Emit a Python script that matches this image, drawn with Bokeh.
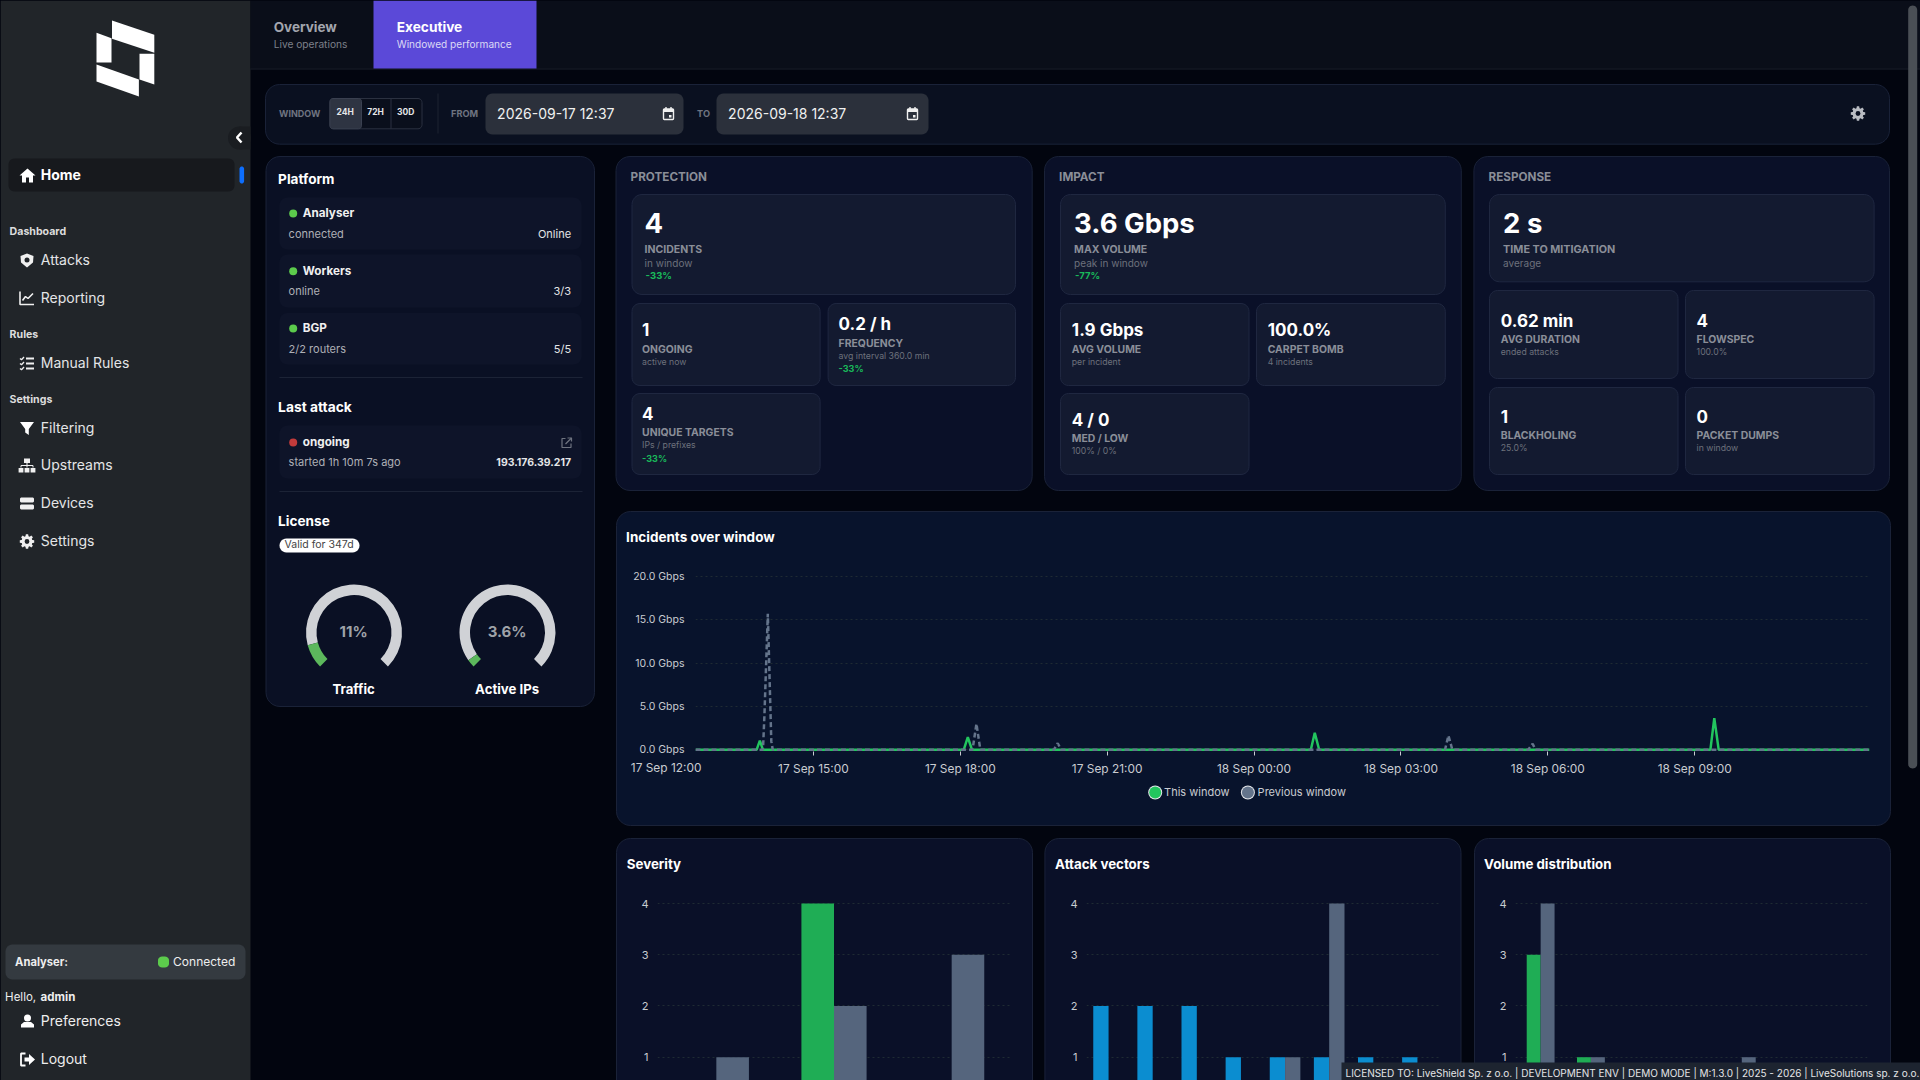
import math
from bokeh.core.properties import value
from bokeh.embed import file_html
from bokeh.resources import INLINE
from bokeh.models import Range1d, FactorRange, FixedTicker, PrintfTickFormatter, ColumnDataSource
from bokeh.plotting import figure
from bokeh.transform import dodge

# ---------- chart data ----------
hours_tick_values = [3, 6, 9, 12, 15, 18, 21]
hours_tick_labels = ["17 Sep 15:00", "17 Sep 18:00", "17 Sep 21:00", "18 Sep 00:00",
                     "18 Sep 03:00", "18 Sep 06:00", "18 Sep 09:00"]
first_tick_label = "17 Sep 12:00"
window_start_h = 0.592
window_end_h = 24.57
gbps_ticks = [0, 5, 10, 15, 20]

this_t = [0.592, 1.84, 1.906, 1.97, 6.07, 6.154, 6.24, 13.16, 13.24, 13.33, 21.32, 21.40, 21.49, 24.57]
this_v = [0, 0, 1.05, 0, 0, 1.45, 0, 0, 1.96, 0, 0, 3.65, 0, 0]
prev_t = [0.592, 1.97, 2.0, 2.069, 2.14, 2.17, 6.25, 6.33, 6.41, 7.91, 7.99, 8.06,
          15.90, 15.97, 16.05, 17.60, 17.69, 17.75, 24.57]
prev_v = [0, 0, 4.0, 15.7, 1.0, 0, 0, 3.0, 0, 0, 0.76, 0, 0, 1.65, 0, 0, 0.7, 0, 0]

bar_ticks = [1, 2, 3, 4]
severity_cats = ["High", "Medium", "Low"]
severity_this = [0, 4, 0]
severity_prev = [1, 2, 3]
vector_cats = ["Vector 1", "Vector 2", "Vector 3", "Vector 4", "Vector 5", "Vector 6", "Vector 7", "Vector 8"]
vector_this = [2, 2, 2, 1, 1, 1, 1, 1]
vector_prev = [0, 0, 0, 0, 1, 4, 0, 0]
volume_cats = ["Bin 1", "Bin 2", "Bin 3", "Bin 4", "Bin 5", "Bin 6", "Bin 7"]
volume_this = [3, 1, 0, 0, 0, 0, 0]
volume_prev = [4, 1, 0, 0, 1, 0, 0]

gauge_names = ["Traffic", "Active IPs"]
gauge_texts = ["11%", "3.6%"]
gauge_values = [11, 3.6]

# ---------- palette ----------
SIDE = "#212529"; BG = "#02050f"; TAB = "#0a0e19"; CARD = "#0a1028"; CARDL = "#1a2238"
TILE = "#131a30"; TILEL = "#1f2740"; CHARTC = "#08132c"; GREEN = "#22c55e"; GREY = "#64748b"
BARG = "#1fad55"; BARB = "#0b8dd0"; BARP = "#55657d"; OK = "#5ccb4c"
FONT = "Inter"

p = figure(width=1920, height=1080, x_range=Range1d(0, 1920), y_range=Range1d(1080, 0),
           toolbar_location=None, output_backend="svg", min_border_left=0, min_border_right=0,
           min_border_top=0, min_border_bottom=0, outline_line_color=None,
           background_fill_color=BG, border_fill_color=None, x_axis_location=None, y_axis_location=None,
           styles={"position": "absolute", "left": "0px", "top": "0px"})
p.grid.visible = False

def rr(x0, y0, x1, y1, r):
    xs, ys = [], []
    for cx, cy, a0 in [(x1 - r, y0 + r, -90), (x1 - r, y1 - r, 0), (x0 + r, y1 - r, 90), (x0 + r, y0 + r, 180)]:
        for i in range(7):
            a = math.radians(a0 + i * 15)
            xs.append(cx + r * math.cos(a)); ys.append(cy + r * math.sin(a))
    return xs, ys

def box(x0, y0, x1, y1, r=0, fill=None, line=None, lw=1):
    xs, ys = rr(x0, y0, x1, y1, r)
    p.patch(xs, ys, fill_color=fill, fill_alpha=1 if fill else 0, line_color=line, line_width=lw)

def poly(pts, color):
    p.patch([a for a, _ in pts], [b for _, b in pts], fill_color=color, line_color=None)

def stroke(pts, color, w=1.5):
    p.line([a for a, _ in pts], [b for _, b in pts], line_color=color, line_width=w)

def dot(x, y, r, color):
    p.circle([x], [y], radius=r, fill_color=color, line_color=None)

def T(x, y, s, size=12, color="#ffffff", bold=False, align="left", font=FONT):
    p.text([x - 0.4], [y - 0.7], text=[s], text_font=value(font), text_font_size=f"{size}px", text_color=color,
           text_baseline="middle", text_align=align, text_font_style="bold" if bold else "normal")

# ---------- page chrome ----------
box(0, 0, 250, 1080, fill=SIDE)
box(250, 0, 1920, 68, fill=TAB)
stroke([(250, 68.5), (1920, 68.5)], "#1b202c", 1)
box(373, 0, 536, 68, fill="#5b49d8")
T(273.6, 26.7, "Overview", 13.5, "#a3a6ae", True)
T(273.6, 43.7, "Live operations", 10.2, "#7d808a")
T(396.6, 26.7, "Executive", 13.7, "#ffffff", True)
T(396.6, 43.7, "Windowed performance", 10.1, "#dcd9f5")

# scrollbar thumb
box(1907.7, 5, 1916.7, 768, r=4.5, fill="#4a4f55")

# logo
for pts in ([(111.5, 20), (153.8, 34.3), (153.8, 52.3), (111.5, 38.3)],
            [(96, 32.3), (111, 37.7), (111, 62), (96, 62)],
            [(96, 64), (138.4, 79), (138.4, 96), (96, 81)],
            [(139, 53.3), (153.8, 53.3), (153.8, 84), (139, 79)]):
    poly(pts, "#ffffff")

# collapse tab
dot(239, 137.5, 11.5, "#1a1d21")
box(239, 126, 250, 149, fill="#1a1d21")
stroke([(241, 132), (236.5, 137), (241, 142)], "#ffffff", 2.5)

# navigation
box(8, 158, 234, 191, r=6, fill="#17191d")
box(239, 166, 243.6, 183, r=2.3, fill="#0d6efd")

def home(cx, cy):
    poly([(cx, cy - 7), (cx + 8, cy), (cx + 5.5, cy), (cx + 5.5, cy + 7), (cx + 1.5, cy + 7), (cx + 1.5, cy + 2),
          (cx - 1.5, cy + 2), (cx - 1.5, cy + 7), (cx - 5.5, cy + 7), (cx - 5.5, cy), (cx - 8, cy)], "#ffffff")

def shield(cx, cy):
    poly([(cx, cy - 7), (cx + 6.5, cy - 4.5), (cx + 6, cy + 2), (cx, cy + 7), (cx - 6, cy + 2), (cx - 6.5, cy - 4.5)], "#f0f0f0")
    dot(cx, cy - 0.5, 2.5, SIDE)

def chart_icon(cx, cy):
    stroke([(cx - 7, cy - 7), (cx - 7, cy + 6), (cx + 7, cy + 6)], "#f0f0f0", 1.6)
    stroke([(cx - 4.5, cy + 2), (cx - 1.5, cy - 2), (cx + 1, cy), (cx + 6, cy - 5)], "#f0f0f0", 1.6)

def list_icon(cx, cy):
    for d in (-5, 0, 5):
        stroke([(cx - 1, cy + d), (cx + 7, cy + d)], "#f0f0f0", 2)
        stroke([(cx - 7, cy + d), (cx - 5.5, cy + d + 1.3), (cx - 3, cy + d - 1.5)], "#f0f0f0", 1.3)

def funnel(cx, cy):
    poly([(cx - 7, cy - 6), (cx + 7, cy - 6), (cx + 1.8, cy + 1), (cx + 1.8, cy + 7), (cx - 1.8, cy + 4.5), (cx - 1.8, cy + 1)], "#ffffff")

def sitemap(cx, cy):
    box(cx - 3, cy - 7, cx + 3, cy - 2.5, fill="#f0f0f0")
    stroke([(cx, cy - 2.5), (cx, cy + 2)], "#f0f0f0", 1)
    stroke([(cx - 6, cy + 2), (cx - 6, cy), (cx + 6, cy), (cx + 6, cy + 2)], "#f0f0f0", 1)
    for d in (-6, 0, 6):
        box(cx + d - 2.4, cy + 2.5, cx + d + 2.4, cy + 7, fill="#f0f0f0")

def devices(cx, cy):
    box(cx - 7, cy - 6, cx + 7, cy - 1, r=1.5, fill="#f0f0f0")
    box(cx - 7, cy + 1, cx + 7, cy + 6, r=1.5, fill="#f0f0f0")

def gear(cx, cy, color="#f0f0f0", hole=SIDE):
    pts = []
    for i in range(8):
        a = math.radians(i * 45)
        for da, r in ((-16, 5.5), (-9, 7.3), (9, 7.3), (16, 5.5)):
            b = a + math.radians(da)
            pts.append((cx + r * math.cos(b), cy + r * math.sin(b)))
    poly(pts, color)
    dot(cx, cy, 2.4, hole)

def person(cx, cy):
    dot(cx, cy - 3.5, 3.5, "#ffffff")
    poly([(cx - 6.5, cy + 6), (cx - 6.5, cy + 3), (cx - 3.5, cy + 0.5), (cx + 3.5, cy + 0.5), (cx + 6.5, cy + 3), (cx + 6.5, cy + 6)], "#ffffff")

def logout(cx, cy):
    stroke([(cx - 2, cy - 6), (cx - 6.5, cy - 6), (cx - 6.5, cy + 6), (cx - 2, cy + 6)], "#ffffff", 1.8)
    poly([(cx - 3, cy - 2), (cx + 1.5, cy - 2), (cx + 1.5, cy - 5.5), (cx + 7.5, cy), (cx + 1.5, cy + 5.5), (cx + 1.5, cy + 2), (cx - 3, cy + 2)], "#ffffff")

home(27, 175); T(40.7, 175, "Home", 14, "#ffffff", True)
T(9.5, 232, "Dashboard", 10.6, "#dddddd", True)
shield(26.5, 260); T(40.7, 260, "Attacks", 14, "#e4e5e7")
chart_icon(26.5, 298); T(40.7, 298, "Reporting", 14, "#e4e5e7")
T(9.5, 335, "Rules", 10.6, "#dddddd", True)
list_icon(26.5, 363); T(40.7, 363, "Manual Rules", 14, "#e4e5e7")
T(9.5, 400, "Settings", 10.6, "#dddddd", True)
funnel(26.5, 427.5); T(40.7, 427.5, "Filtering", 14, "#e4e5e7")
sitemap(26.5, 465); T(40.7, 465, "Upstreams", 14, "#e4e5e7")
devices(26.5, 503); T(40.7, 503, "Devices", 14, "#e4e5e7")
gear(26.5, 541); T(40.7, 541, "Settings", 14, "#e4e5e7")

box(5, 944, 245, 979, r=7, fill="#343a40")
T(15, 962, "Analyser:", 11.2, "#eeeeee", True)
box(157.5, 956, 168.5, 967, r=4, fill=OK)
T(173, 962, "Connected", 12, "#eeeeee")
T(5, 997, "Hello,", 11.5, "#eeeeee"); T(40.5, 997, "admin", 11.5, "#eeeeee", True)
person(27, 1021); T(40.7, 1021, "Preferences", 14, "#eeeeee")
logout(27, 1059); T(40.7, 1059, "Logout", 14, "#eeeeee")

# toolbar
box(265, 84, 1889, 143.7, r=14, fill="#0a1020", line=CARDL)
T(279, 114, "WINDOW", 9, "#6f7480", True)
box(329.4, 98, 421.5, 128.3, r=4, fill="#0a0f1c", line="#2b3140")
box(329.4, 98, 361, 128.3, r=3, fill="#2e3442", line="#3a4050")
stroke([(390.5, 98), (390.5, 128.3)], "#2b3140", 1)
for x, s in ((345, "24H"), (375.5, "72H"), (405.7, "30D")):
    T(x, 112, s, 8.5, "#e5e6e8", True, "center")
stroke([(437.5, 93), (437.5, 133)], "#1c2230", 1)
T(451, 114, "FROM", 9.2, "#6f7480", True)
T(697, 114, "TO", 9.2, "#6f7480", True)

def cal(cx, cy):
    box(cx - 5, cy - 5, cx + 5, cy + 5.5, r=1, line="#f0f0f0", lw=1.4)
    box(cx - 5, cy - 5, cx + 5, cy - 2, fill="#f0f0f0")
    stroke([(cx - 2.5, cy - 7), (cx - 2.5, cy - 4)], "#f0f0f0", 1.4)
    stroke([(cx + 2.5, cy - 7), (cx + 2.5, cy - 4)], "#f0f0f0", 1.4)
    box(cx + 0.5, cy + 1, cx + 3, cy + 3.5, fill="#f0f0f0")

for x0, x1, tx, icx, s in ((485, 683, 497, 668, "2026-09-17 12:37"), (716, 928, 728, 912, "2026-09-18 12:37")):
    box(x0, 93, x1, 134, r=7, fill="#2b303b")
    T(tx, 114, s, 14, "#f0f0f0")
    cal(icx, 113.5)
gear(1857.5, 113, "#b9bcc2", "#0a1020")

# platform card
box(265.5, 156, 594, 706, r=14, fill="#0a1024", line=CARDL)
T(278, 179, "Platform", 13.6, "#ffffff", True)
TPL = "#0e1429"
for y0, y1 in ((197, 249), (254, 307), (312.5, 364), (425, 478)):
    box(279, y0, 581, y1, r=8, fill=TPL)
for yn, ys, name, sub, right in ((213, 234, "Analyser", "connected", "Online"),
                                 (270.7, 291, "Workers", "online", "3/3"),
                                 (328, 349, "BGP", "2/2 routers", "5/5")):
    dot(292.7, yn, 4, OK)
    T(302.7, yn, name, 11.7, "#f0f0f0", True)
    T(288.5, ys, sub, 11, "#aeb0b6")
    T(571, ys, right, 11, "#e4e5e7", False, "right")
stroke([(279, 377), (582, 377)], "#1c2336", 1)
T(278, 407, "Last attack", 13.8, "#ffffff", True)
dot(292.7, 442, 4, "#c23b3b")
T(302.7, 442, "ongoing", 11.7, "#f0f0f0", True)
T(288.5, 462, "started 1h 10m 7s ago", 11, "#aeb0b6")
T(571, 462, "193.176.39.217", 10.5, "#e4e5e7", True, "right")
stroke([(565, 438), (561.5, 438), (561.5, 447), (570.5, 447), (570.5, 443)], "#6f7480", 1.2)
stroke([(565, 443.5), (571, 437.5)], "#6f7480", 1.2)
stroke([(567, 437.5), (571, 437.5), (571, 441)], "#6f7480", 1.2)
stroke([(279, 491), (582, 491)], "#1c2336", 1)
T(278, 521, "License", 13.6, "#ffffff", True)
box(279, 538, 359, 552, r=7, fill="#ffffff")
T(319, 545, "Valid for 347d", 10.5, "#444444", False, "center")

# gauges
gauge_x = [353.5, 507]
for gx, name, txt, val in zip(gauge_x, gauge_names, gauge_texts, gauge_values):
    start = 225.0
    sweep = 270.0
    end = start - sweep * val / 100.0
    p.annular_wedge([gx], [632], inner_radius=37.5, outer_radius=48, start_angle=math.radians(-45),
                    end_angle=math.radians(end), fill_color="#d0d2d6", line_color=None)
    p.annular_wedge([gx], [632], inner_radius=37.5, outer_radius=48, start_angle=math.radians(end),
                    end_angle=math.radians(start), fill_color="#5cb85c", line_color=None)
    T(gx, 632, txt, 15, "#9fa2a8", True, "center")
    T(gx, 689, name, 13.2, "#ffffff", True, "center")

# stat cards
LBL = "#8a8e98"; SUB = "#6d717c"; DLT = "#19b95a"

def stat(x, yv, yl, ys, value_text, label, sub, size=17, delta=None, yd=None, dx=0, lsize=10.4, ssize=8.7, dsize=9):
    T(x, yv, value_text, size, "#ffffff", True)
    T(x, yl, label, lsize, LBL, True)
    T(x, ys, sub, ssize, SUB)
    if delta:
        T(x + dx, yd, delta, dsize, DLT, True)

for x0, x1, title in ((615.5, 1031.7, "PROTECTION"), (1044, 1460.8, "IMPACT"), (1473.4, 1889, "RESPONSE")):
    box(x0, 156, x1, 490, r=14, fill=CARD, line=CARDL)
    T(x0 + 15, 177, title, 11.7, LBL, True)

for a, b, c_, d, r in ((631.5, 194, 1015, 294, 10), (631.5, 303, 819.6, 385, 8), (827.6, 303, 1015, 385, 8),
                       (631.5, 393, 819.6, 474, 8),
                       (1060, 194, 1444.8, 294, 10), (1060, 303, 1248.5, 385, 8), (1256, 303, 1444.8, 385, 8),
                       (1060, 393, 1248.5, 474, 8),
                       (1489, 194, 1873.6, 281.3, 10), (1489, 290, 1677.5, 378, 8), (1685, 290, 1873.6, 378, 8),
                       (1489, 387, 1677.5, 474, 8), (1685, 387, 1873.6, 474, 8)):
    box(a, b, c_, d, r=r, fill=TILE, line=TILEL)

stat(644.5, 222.7, 249.3, 262.7, "4", "INCIDENTS", "in window", 27.5, "-33%", 275.7, 1, 10.5, 10, 9.5)
stat(642, 330, 350, 362, "1", "ONGOING", "active now")
stat(838.5, 324, 343.7, 356, "0.2 / h", "FREQUENCY", "avg interval 360.0 min", 17, "-33%", 369)
stat(642, 414, 433, 445, "4", "UNIQUE TARGETS", "IPs / prefixes", 17, "-33%", 459)
stat(1074, 222.7, 249.3, 262.7, "3.6 Gbps", "MAX VOLUME", "peak in window", 27.5, "-77%", 275.7, 1, 10.5, 10, 9.5)
stat(1071.7, 330, 350, 362, "1.9 Gbps", "AVG VOLUME", "per incident")
stat(1267.6, 330, 350, 362, "100.0%", "CARPET BOMB", "4 incidents")
stat(1071.7, 420, 439, 451, "4 / 0", "MED / LOW", "100% / 0%")
stat(1503, 222.7, 249.3, 262.7, "2 s", "TIME TO MITIGATION", "average", 27.5, lsize=10.8, ssize=10)
stat(1500.7, 321, 340, 352, "0.62 min", "AVG DURATION", "ended attacks")
stat(1696.5, 321, 340, 352, "4", "FLOWSPEC", "100.0%")
stat(1500.7, 416.7, 436, 448, "1", "BLACKHOLING", "25.0%")
stat(1696.5, 416.7, 436, 448, "0", "PACKET DUMPS", "in window")

# chart cards
box(616, 511, 1890, 825, r=14, fill=CHARTC, line=CARDL)
T(626, 537, "Incidents over window", 13.5, "#ffffff", True)
T(666, 767.8, first_tick_label, 11.9, "#c9ccd1", False, "center")
for x0, x1, tx, title in ((616, 1032, 626.7, "Severity"), (1044.4, 1460.5, 1055, "Attack vectors"), (1474, 1890, 1484, "Volume distribution")):
    box(x0, 838, x1, 1100, r=14, fill=CARD, line=CARDL)
    T(tx, 864, title, 13.3, "#ffffff", True)

# legend
dot(1154.7, 792, 7, "#e5e7eb"); dot(1154.7, 792, 6, GREEN)
T(1164, 792, "This window", 11, "#c9ccd1")
dot(1247.4, 792, 7, "#e5e7eb"); dot(1247.4, 792, 6, GREY)
T(1257.5, 792, "Previous window", 11, "#c9ccd1")


def sub_fig(left, top, right, bottom, fl, ft, fr, fb, x_range, y_range):
    return figure(width=int(right - left), height=int(bottom - top), x_range=x_range, y_range=y_range,
                  toolbar_location=None, output_backend="svg", outline_line_color=None,
                  background_fill_color=None, border_fill_color=None,
                  min_border_left=int(fl - left), min_border_right=int(right - fr),
                  min_border_top=int(ft - top), min_border_bottom=int(bottom - fb),
                  styles={"position": "absolute", "left": f"{left}px", "top": f"{top}px"})


# line chart
px_per_g = (749.3 - 576) / 20.0
c = sub_fig(625, 560, 1885, 790, 695, 570, 1869, 751,
            Range1d(window_start_h, window_end_h),
            Range1d(-(751 - 749.3) / px_per_g, 20 + (576 - 570) / px_per_g))
c.xgrid.visible = False
c.ygrid.ticker = FixedTicker(ticks=gbps_ticks)
c.ygrid.grid_line_color = "#1f2b33"
c.ygrid.grid_line_dash = [2, 3]
c.yaxis.ticker = FixedTicker(ticks=gbps_ticks)
c.yaxis.formatter = PrintfTickFormatter(format="%.1f Gbps")
c.yaxis.axis_line_color = None
c.yaxis.major_tick_line_color = None
c.yaxis.minor_tick_line_color = None
c.yaxis.major_label_standoff = 5
c.yaxis.major_label_text_font = FONT
c.yaxis.major_label_text_font_size = "10.5px"
c.yaxis.major_label_text_color = "#c9ccd1"
c.xaxis.ticker = FixedTicker(ticks=hours_tick_values)
c.xaxis.major_label_overrides = dict(zip(hours_tick_values, hours_tick_labels))
c.xaxis.axis_line_color = None
c.xaxis.major_tick_line_color = "#c9ccd1"
c.xaxis.major_tick_in = 0
c.xaxis.major_tick_out = 4
c.xaxis.minor_tick_line_color = None
c.xaxis.major_label_standoff = 5
c.xaxis.major_label_text_font = FONT
c.xaxis.major_label_text_font_size = "11.9px"
c.xaxis.major_label_text_color = "#c9ccd1"
c.line(this_t, this_v, line_color=GREEN, line_width=2.5)
c.line(prev_t, prev_v, line_color=GREY, line_width=2.5, line_dash=[5, 3])


def bar_chart(left, right, fl, fr, cats, this, prev, color, w):
    px_per_u = (1056.7 - 903) / 3.0
    b = sub_fig(left, 880, right, 1080, fl, 893, fr, 1080, FactorRange(factors=cats, range_padding=0),
                Range1d(1 - (1080 - 1056.7) / px_per_u, 4 + (903 - 893) / px_per_u))
    src = ColumnDataSource(dict(cat=cats, this=this, prev=prev))
    b.vbar(x=dodge("cat", -w / 2, range=b.x_range), top="this", bottom=0, width=w, source=src, fill_color=color, line_color=None)
    b.vbar(x=dodge("cat", w / 2, range=b.x_range), top="prev", bottom=0, width=w, source=src, fill_color=BARP, line_color=None)
    b.xgrid.visible = False
    b.xaxis.visible = False
    b.ygrid.ticker = FixedTicker(ticks=bar_ticks)
    b.ygrid.grid_line_color = "#1f2b33"
    b.ygrid.grid_line_dash = [2, 3]
    b.yaxis.ticker = FixedTicker(ticks=bar_ticks)
    b.yaxis.axis_line_color = None
    b.yaxis.major_tick_line_color = None
    b.yaxis.minor_tick_line_color = None
    b.yaxis.major_label_standoff = 3
    b.yaxis.major_label_text_font = FONT
    b.yaxis.major_label_text_font_size = "11px"
    b.yaxis.major_label_text_color = "#c9ccd1"
    return b


sev = bar_chart(625, 1020, 657.6, 1010, severity_cats, severity_this, severity_prev, BARG, 0.277)
atk = bar_chart(1054, 1449, 1086, 1439, vector_cats, vector_this, vector_prev, BARB, 0.347)
vol = bar_chart(1483, 1878, 1515, 1867, volume_cats, volume_this, volume_prev, BARG, 0.277)

# licence footer
foot = figure(width=579, height=18, x_range=Range1d(1341, 1920), y_range=Range1d(1080, 1062),
              toolbar_location=None, output_backend="svg", min_border_left=0, min_border_right=0,
              min_border_top=0, min_border_bottom=0, outline_line_color=None,
              background_fill_color="#1d2430", border_fill_color=None, x_axis_location=None, y_axis_location=None,
              styles={"position": "absolute", "left": "1341px", "top": "1062px"})
foot.grid.visible = False
foot.text([1345], [1072], text=["LICENSED TO: LiveShield Sp. z o.o. | DEVELOPMENT ENV | DEMO MODE | M:1.3.0 | 2025 - 2026 | LiveSolutions sp. z o.o."],
          text_font=value(FONT), text_font_size="10px", text_color="#e4e5e7", text_baseline="middle")

TEMPLATE = """{% block preamble %}<style>
html, body { margin: 0; padding: 0; overflow: hidden; background: #02050f; }
</style>{% endblock %}"""

open("out.html", "w").write(file_html([p, c, sev, atk, vol, foot], INLINE, template=TEMPLATE))
